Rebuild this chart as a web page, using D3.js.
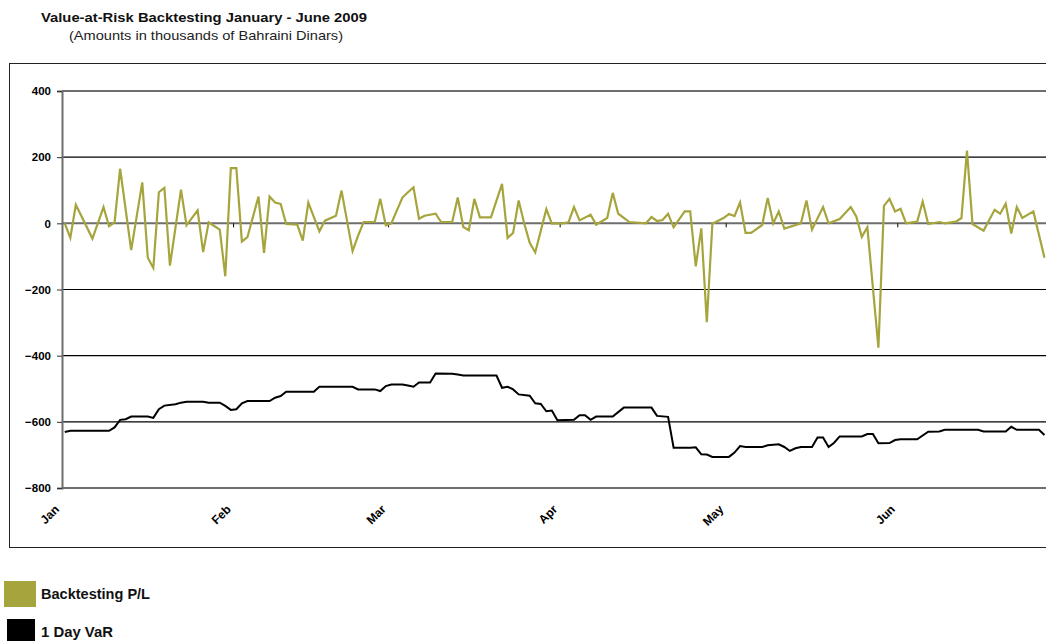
<!DOCTYPE html>
<html>
<head>
<meta charset="utf-8">
<script src="https://cdn.jsdelivr.net/npm/d3@7"></script>
<style>
  html, body { margin: 0; padding: 0; background: #fff; overflow: hidden; }
  svg { display: block; font-family: "Liberation Sans", Arial, sans-serif; }
</style>
</head>
<body>
<svg id="chart" width="1046" height="641"></svg>
<script>
// ---- data (day offsets from 1 Jan 2009, values in BHD thousands) ----
const chartTitle = "Value-at-Risk Backtesting January - June 2009";
const chartSubtitle = "(Amounts in thousands of Bahraini Dinars)";
const monthLabels = ["Jan", "Feb", "Mar", "Apr", "May", "Jun"];
const yTicks = [400, 200, 0, -200, -400, -600, -800];
const seriesNames = ["Backtesting P/L", "1 Day VaR"];

const plDay = [0,1,2,5,7,8,9,10,12,14,15,16,17,18,19,21,22,24,25,26,27,28,29,30,31,32,33,35,36,37,38,39,40,42,43,44,46,47,49,50,52,53,54,56,57,58,59,61,62,63,64,65,67,68,70,71,72,73,74,75,77,79,80,81,82,83,84,85,87,88,90,91,92,93,95,96,98,99,100,102,105,106,107,108,109,110,112,113,114,115,116,117,119,120,121,122,123,124,126,127,128,129,130,133,134,135,137,138,140,142,143,144,145,147,148,149,150,151,152,154,155,156,158,159,161,162,163,164,166,168,169,170,171,172,173,175,177];
const plValue = [0,-44,56,-46,49,-9,3,165,-81,124,-104,-135,94,107,-128,102,-6,39,-87,3,-8,-19,-160,167,167,-55,-42,81,-89,81,63,59,-2,-4,-52,63,-24,8,23,99,-84,-37,4,4,74,-6,0,78,94,109,14,23,29,4,4,78,-11,-21,74,18,18,119,-44,-29,69,0,-59,-88,43,-1,0,3,49,9,26,-4,16,92,29,4,0,19,7,10,29,-12,36,36,-130,-15,-299,-1,16,28,22,63,-29,-29,-5,77,0,36,-16,0,69,-19,49,0,13,49,21,-41,-12,-376,53,74,36,44,0,5,66,-2,4,0,5,16,220,-2,-22,41,29,59,-31,49,16,36,-104];

const varDay = [0,1,8,9,10,11,12,15,16,17,18,20,21,22,25,26,28,29,30,31,32,33,37,38,39,40,45,46,52,53,56,57,58,59,61,62,63,64,66,67,70,71,72,78,79,80,81,82,84,85,86,87,88,89,92,93,94,95,96,99,101,106,107,109,110,113,114,115,116,117,120,121,122,123,126,127,129,130,131,132,133,135,136,137,138,139,140,144,145,146,147,149,150,151,154,156,158,159,165,166,170,171,172,176,177];
const varValue = [-631,-627,-627,-617,-594,-592,-584,-584,-588,-562,-551,-547,-542,-539,-539,-542,-542,-552,-564,-562,-544,-537,-537,-527,-522,-509,-509,-494,-494,-502,-502,-507,-492,-487,-487,-490,-494,-481,-481,-454,-455,-457,-460,-460,-497,-494,-502,-517,-521,-544,-546,-568,-566,-595,-594,-580,-580,-594,-584,-584,-557,-557,-582,-585,-678,-678,-677,-698,-699,-706,-706,-693,-673,-676,-676,-671,-668,-676,-688,-680,-676,-676,-647,-647,-676,-663,-644,-644,-637,-637,-665,-664,-655,-653,-653,-630,-629,-624,-624,-629,-629,-615,-624,-624,-640];

// ---- layout ----
const colors = { pl: "#a6a53d", var: "#000000" };
const svg = d3.select("#chart");
const base = Date.UTC(2009, 0, 1);
const dayMs = 86400000;
const toDate = d => new Date(base + d * dayMs);

const plotLeft = 62, plotTop = 91, plotBottom = 488;
const pxPerDay = 5.535;
const x = d3.scaleUtc()
  .domain([toDate(0), toDate(181)])
  .range([plotLeft, plotLeft + 181 * pxPerDay]);
const y = d3.scaleLinear().domain([-800, 400]).range([plotBottom, plotTop]);

// outer frame
svg.append("rect")
  .attr("x", 9.5).attr("y", 63.5).attr("width", 1100).attr("height", 484)
  .attr("fill", "none").attr("stroke", "#222").attr("stroke-width", 1);

// title
svg.append("text").attr("x", 41).attr("y", 22)
  .attr("font-size", 13).attr("font-weight", "bold").attr("fill", "#111")
  .attr("textLength", 326).attr("lengthAdjust", "spacingAndGlyphs").text(chartTitle);
svg.append("text").attr("x", 69).attr("y", 40)
  .attr("font-size", 13).attr("fill", "#222")
  .attr("textLength", 274).attr("lengthAdjust", "spacingAndGlyphs").text(chartSubtitle);

// gridlines
const xEnd = 1100;
svg.append("g").selectAll("line")
  .data(yTicks.filter(v => v !== 0 && v !== 400 && v !== -800))
  .join("line")
  .attr("x1", plotLeft).attr("x2", xEnd)
  .attr("y1", d => y(d)).attr("y2", d => y(d))
  .attr("stroke", "#000").attr("stroke-width", 1.2);
// plot border top / bottom
svg.append("g").selectAll("line")
  .data([400, -800])
  .join("line")
  .attr("x1", plotLeft).attr("x2", xEnd)
  .attr("y1", d => y(d)).attr("y2", d => y(d))
  .attr("stroke", "#6e6e6e").attr("stroke-width", 2);

// y axis
const yAxis = d3.axisLeft(y).tickValues(yTicks).tickSize(5).tickPadding(5)
  .tickFormat(d3.format("d"));
const gy = svg.append("g").attr("transform", `translate(${plotLeft},0)`).call(yAxis);
gy.select(".domain").attr("stroke", "#6e6e6e").attr("stroke-width", 2);
gy.selectAll(".tick line").attr("stroke", "#333");
gy.selectAll(".tick text").attr("font-size", 11.5).attr("font-weight", "bold")
  .attr("fill", "#000").attr("font-family", "Liberation Sans, Arial, sans-serif")
  .attr("dx", -1);

// zero axis line with month ticks
const monthDates = d3.utcMonth.range(toDate(0), toDate(181));
svg.append("line").attr("x1", plotLeft).attr("x2", xEnd)
  .attr("y1", y(0)).attr("y2", y(0))
  .attr("stroke", "#6e6e6e").attr("stroke-width", 2);
svg.append("g").selectAll("line").data(monthDates.slice(1)).join("line")
  .attr("x1", d => x(d)).attr("x2", d => x(d))
  .attr("y1", y(0)).attr("y2", y(0) + 4)
  .attr("stroke", "#000").attr("stroke-width", 1);

// month labels below plot
svg.append("g").selectAll("text").data(monthDates).join("text")
  .attr("transform", d => `translate(${x(d) - 2},${plotBottom + 22}) rotate(-45)`)
  .attr("text-anchor", "end")
  .attr("font-size", 12).attr("font-weight", "bold").attr("fill", "#000")
  .text((d, i) => monthLabels[i]);

// lines
const mkLine = d3.line()
  .x(d => x(toDate(d[0] + 0.5)))
  .y(d => y(d[1]));
const plPts = plDay.map((d, i) => [d, plValue[i]]);
const varPts = varDay.map((d, i) => [d, varValue[i]]);

svg.append("path").datum(plPts).attr("d", mkLine)
  .attr("fill", "none").attr("stroke", colors.pl).attr("stroke-width", 2.2)
  .attr("stroke-linejoin", "miter");
svg.append("path").datum(varPts).attr("d", mkLine)
  .attr("fill", "none").attr("stroke", colors.var).attr("stroke-width", 2)
  .attr("stroke-linejoin", "miter");

// legend
const legend = svg.append("g");
const legendItems = [
  { name: seriesNames[0], color: colors.pl, x: 4, y: 581, w: 32, h: 26, ty: 599 },
  { name: seriesNames[1], color: colors.var, x: 7, y: 619, w: 28, h: 24, ty: 637 }
];
legendItems.forEach(it => {
  legend.append("rect").attr("x", it.x).attr("y", it.y).attr("width", it.w).attr("height", it.h)
    .attr("fill", it.color);
  legend.append("text").attr("x", 41).attr("y", it.ty)
    .attr("font-size", 14).attr("font-weight", "bold").attr("fill", "#111")
    .attr("textLength", it.name === seriesNames[0] ? 109 : 72)
    .attr("lengthAdjust", "spacingAndGlyphs").text(it.name);
});
</script>
</body>
</html>
